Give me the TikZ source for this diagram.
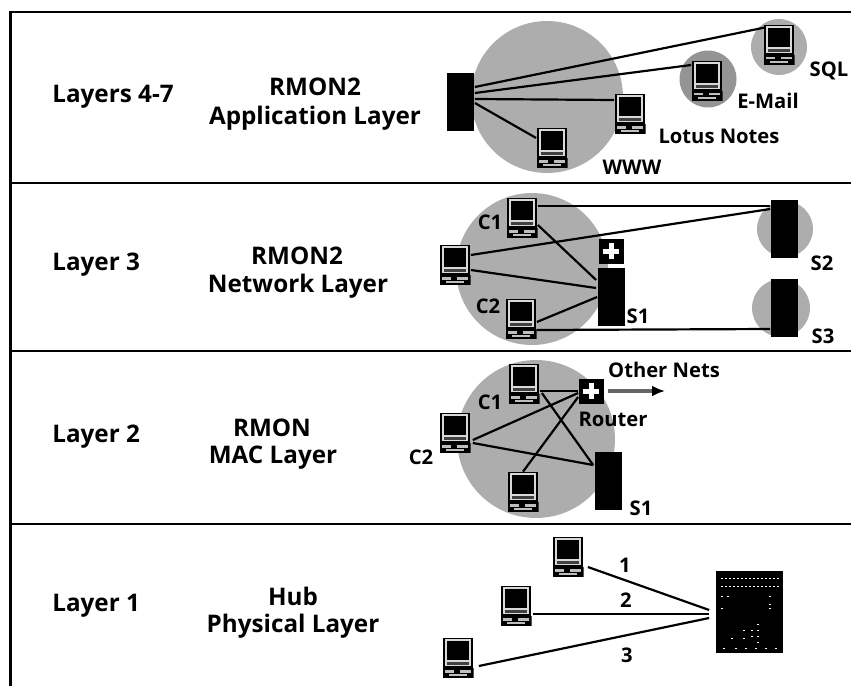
\documentclass[tikz,border=0pt]{standalone}
\usepackage{fontspec}
\setmainfont{Open Sans}
\usetikzlibrary{calc,arrows.meta}
\tikzset{
    rulebar/.style={line width=1.2pt},
    conn/.style={line width=1.25pt},
    cloud/.style={circle, fill=black!32, inner sep=0pt},
    lbl/.style={font=\fontsize{11.5}{12}\selectfont\bfseries, inner sep=0pt, anchor=base},
    biglbl/.style={lbl, font=\fontsize{13.8}{14}\selectfont\bfseries},
    layername/.style={biglbl, anchor=base west},
    server/.style={fill=black, inner sep=0pt, minimum width=0.54cm, minimum height=1.16cm},
    router/.style={fill=black, inner sep=0pt, minimum size=0.5cm,
        path picture={
            \begin{scope}[shift={(path picture bounding box.center)}]
                \fill[white] (-8,-2.5) rectangle (8,2.5);
                \fill[white] (-2.5,-8) rectangle (2.5,8);
            \end{scope}}},
    pc/.style={inner sep=0pt, minimum width=0.62cm, minimum height=0.8cm,
        path picture={
            \begin{scope}[shift={(path picture bounding box.center)}]
                \fill[black!15] (-14,-20) rectangle (14,9);
                \draw[line width=0.8pt] (-14,-20) rectangle (14,9);
                \fill[black] (-11,-17) rectangle (11,2);
                \fill[black!75] (-11,4) rectangle (11,7);
                \fill[black] (-15.5,10) rectangle (15.5,20);
                \fill[black!25] (-13,12) rectangle (-4,14.5);
                \fill[black!25] (2,12) rectangle (13,14.5);
                \fill[black!25] (-9,16) rectangle (9,18);
            \end{scope}}},
    hub/.style={fill=black, inner sep=0pt, minimum width=1.34cm, minimum height=1.64cm,
        path picture={
            \begin{scope}[shift={(path picture bounding box.center)}]
                \foreach \yy in {-34,-26} \foreach \xx in {-28,-24,...,28}
                    \fill[white] (\xx,\yy) rectangle ++(2,1.4);
                \foreach \xx/\yy in {-28/-16,-22/-16,20/-16,-28/-4,20/-4,20/-8,-6/18,-6/26,2/18,2/24,8/12,8/18,8/24,8/30,-18/26,-26/36,-14/36,-4/36,6/36,16/36,26/36}
                    \fill[white] (\xx,\yy) rectangle ++(1.6,1.4);
            \end{scope}}},
}
\begin{document}
\begin{tikzpicture}[x=0.02cm, y=-0.02cm]
    \useasboundingbox (0,0) rectangle (851,686);
    % panel frame
    \draw[rulebar] (851,12) -- (10.5,12) -- (10.5,686);
    \foreach \yy in {183,351,524}
        \draw[rulebar] (10.5,\yy) -- (851,\yy);

    % backgrounds
    \node[cloud, minimum size=3.04cm] (cloudA) at (547,97) {};
    \node[cloud, minimum size=1.12cm] (cloudSql) at (779,47) {};
    \node[cloud, minimum size=1.14cm, fill=black!42] (cloudMail) at (708,79) {};
    \node[cloud, minimum size=3.04cm] (cloudB) at (532,269) {};
    \node[cloud, minimum size=1.12cm] (cloudS2) at (785,229) {};
    \node[cloud, minimum size=1.16cm] (cloudS3) at (781,308) {};
    \node[cloud, minimum size=3.16cm] (cloudC) at (536,439) {};

    % computers
    \foreach \pcname/\xx/\yy in {pcSql/779/45, pcMail/707/81, pcLotus/630/114, pcWww/552/148,
        pcB1/522/218, pcB2/455/265, pcB3/521/319,
        pcC1/524/384, pcC2/455/433, pcC3/523/492,
        pcD1/568/557, pcD2/516/606, pcD3/458/658}
        \node[pc] (\pcname) at (\xx,\yy) {};

    % servers
    \foreach \srvname/\xx/\yy in {srvA/460/102, srvS1/611/297, srvS2/784/229, srvS3/784/308, srvC/608/481}
        \node[server] (\srvname) at (\xx,\yy) {};
    \node[router] (rtrB) at (611,251) {};
    \node[router] (rtrC) at (591,391) {};
    \node[hub] (hubD) at (749,612) {};
    \coordinate (othernets) at (665,391);

    % layers 4-7
    \draw[conn] ($(srvA.east)+(1,-15)$) -- ($(pcSql.north west)+(1,3)$);
    \draw[conn] ($(srvA.east)+(1,-9)$) -- ($(pcMail.west)+(0,-16)$);
    \draw[conn] ($(srvA.east)+(1,-3)$) -- ($(pcLotus.west)+(0,-14)$);
    \draw[conn] ($(srvA.east)+(1,1)$) -- ($(pcWww.west)+(0,-10)$);
    % layer 3
    \draw[conn] ($(pcB1.east)+(0,-12)$) -- ($(srvS2.west)+(0,-23)$);
    \draw[conn] ($(pcB2.east)+(0,-10)$) -- ($(srvS2.west)+(0,-20)$);
    \draw[conn] ($(pcB1.east)+(0,7)$) -- ($(srvS1.west)+(-1,-17)$);
    \draw[conn] ($(pcB2.east)+(0,5)$) -- ($(srvS1.west)+(-1,-9)$);
    \draw[conn] ($(pcB3.east)+(0,3)$) -- (srvS1.west);
    \draw[conn] ($(pcB3.east)+(0,11)$) -- ($(srvS3.west)+(0,21)$);
    % layer 2
    \draw[conn] ($(pcC1.east)+(0,7)$) -- (rtrC.west);
    \draw[conn] ($(pcC2.east)+(2,7)$) -- ($(rtrC.west)+(0,2)$);
    \draw[conn] ($(pcC2.east)+(2,10)$) -- ($(srvC.west)+(-1,-16)$);
    \draw[conn] ($(pcC1.east)+(2,9)$) -- ($(srvC.west)+(-1,-16)$);
    \draw[conn] (pcC3.north) -- ($(rtrC.west)+(0,6)$);
    \draw[line width=1.8pt, black!60, -{Latex[length=2.6mm,width=2.2mm,black]}] ($(rtrC.east)+(4,0)$) -- (othernets);
    % layer 1
    \coordinate (hubport) at ($(hubD.west)+(-6,0)$);
    \draw[conn] ($(pcD1.east)+(4,10)$) -- ($(hubport)+(0,-2)$);
    \draw[conn] ($(pcD2.east)+(1,8)$) -- ($(hubport)+(0,2)$);
    \draw[conn] ($(pcD3.east)+(5,8)$) -- ($(hubport)+(0,6)$);

    % left columns
    \node[layername] (nameA) at (52,102) {Layers 4-7};
    \node[layername] (nameB) at (52,270) {Layer 3};
    \node[layername] (nameC) at (52,442) {Layer 2};
    \node[layername] (nameD) at (52,611) {Layer 1};
    \node[biglbl] (rmonA) at (315,95) {RMON2};
    \node[biglbl] (appA) at (315,124) {Application Layer};
    \node[biglbl] (rmonB) at (297,264) {RMON2};
    \node[biglbl] (netB) at (298,292) {Network Layer};
    \node[biglbl] (rmonC) at (272,436) {RMON};
    \node[biglbl] (macC) at (273,463) {MAC Layer};
    \node[biglbl] (hubtxt) at (293,605) {Hub};
    \node[biglbl] (phyD) at (293,632) {Physical Layer};

    % device labels
    \node[lbl] (tSql) at (829,76) {SQL};
    \node[lbl] (tMail) at (768,109) {E-Mail};
    \node[lbl] (tLotus) at (719,143) {Lotus Notes};
    \node[lbl] (tWww) at (632,174) {WWW};
    \node[lbl] (tB1) at (490,229) {C1};
    \node[lbl] (tB2) at (488,313) {C2};
    \node[lbl] (tS1) at (638,323) {S1};
    \node[lbl] (tS2) at (822,270) {S2};
    \node[lbl] (tS3) at (823,343) {S3};
    \node[lbl] (tOther) at (664,377) {Other Nets};
    \node[lbl] (tRouter) at (613,426) {Router};
    \node[lbl] (tC1) at (490,409) {C1};
    \node[lbl] (tC2) at (421,464) {C2};
    \node[lbl] (tC3) at (641,515) {S1};
    \node[lbl] (tOne) at (625,572) {1};
    \node[lbl] (tTwo) at (626,607) {2};
    \node[lbl] (tThree) at (627,662) {3};
\end{tikzpicture}
\end{document}
